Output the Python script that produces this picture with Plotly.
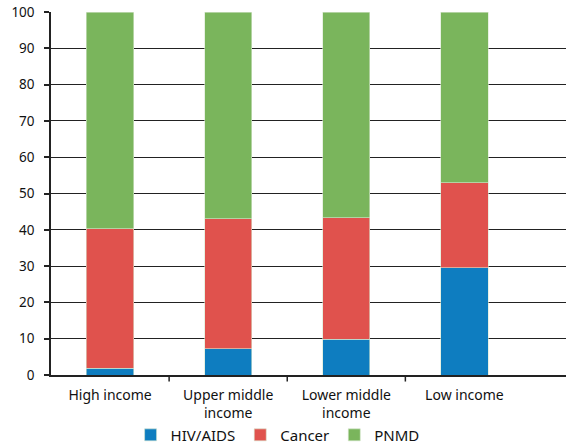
import plotly.graph_objects as go

categories = ["High income", "Upper middle<br>income", "Lower middle<br>income", "Low income"]
hiv = [1.8, 7.3, 9.8, 29.5]
cancer = [38.5, 35.7, 33.5, 23.5]
pnmd = [59.7, 57.0, 56.7, 47.0]
y_ticks = [0, 10, 20, 30, 40, 50, 60, 70, 80, 90, 100]

font = "Noto Sans"
fig = go.Figure()
for name, vals, col in [("HIV/AIDS", hiv, "#0E7DC0"), ("Cancer", cancer, "#E0524D"), ("PNMD", pnmd, "#7AB55C")]:
    fig.add_trace(go.Bar(x=categories, y=vals, name=name,
                         marker=dict(color=col, line=dict(width=0.6, color="#d8e8d0")), width=0.4))

# boundary tick marks between categories
for i in range(len(categories) - 1):
    fig.add_shape(type="line", xref="x", yref="paper", x0=i + 0.5, x1=i + 0.5, y0=0, y1=-0.018,
                  line=dict(color="#222", width=1.5), layer="above")

fig.update_layout(
    barmode="stack",
    width=566, height=444,
    margin=dict(l=51, r=0, t=12, b=69),
    plot_bgcolor="white", paper_bgcolor="white",
    font=dict(family=font, size=13, color="#111"),
    showlegend=True,
    legend=dict(orientation="h", x=0.44, xanchor="center", xref="paper",
                y=0.02, yanchor="middle", yref="container",
                font=dict(size=15), itemwidth=30, traceorder="normal"),
)
fig.update_xaxes(range=[-0.5, 3.86], showline=True, linecolor="#222", linewidth=1.5,
                 ticks="", showgrid=False, tickfont=dict(size=14), automargin=False,
                 ticklabelstandoff=6)
fig.update_yaxes(range=[0, 100], tickvals=y_ticks, showline=True, linecolor="#222", linewidth=1.5,
                 ticks="outside", ticklen=5, tickcolor="#222", tickwidth=1.5,
                 gridcolor="#222", gridwidth=1.4, zeroline=False, tickfont=dict(size=13.5),
                 automargin=False, ticklabelstandoff=7)

fig.write_html("out.html", config={"displayModeBar": False},
               post_script="document.body.style.margin='0';")
